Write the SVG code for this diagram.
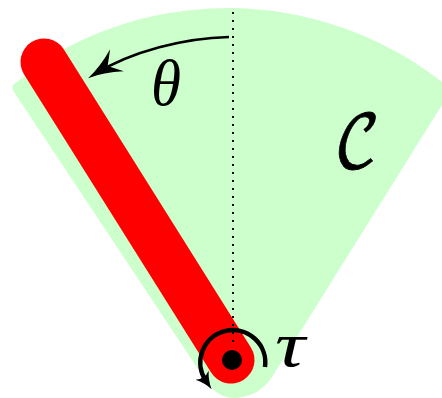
<svg xmlns="http://www.w3.org/2000/svg" width="442" height="398" viewBox="0 0 442 398">
<defs>
<style>
.m{font-family:"Liberation Serif","DejaVu Serif",serif;font-style:italic;fill:#000}
.c{fill:none;stroke:#000}
</style>
<marker id="a" markerUnits="userSpaceOnUse" viewBox="0 0 36 28" refX="27" refY="14" markerWidth="36" markerHeight="28" orient="auto"><path d="M0 1Q18 11 34 14Q18 17 0 27L11 14Z" fill="#000"/></marker>
<marker id="b" markerUnits="userSpaceOnUse" viewBox="0 0 20 20" refX="7" refY="10" markerWidth="20" markerHeight="20" orient="auto"><path d="M0 2Q8 8 17 10Q8 12 0 18Q5 10 0 2Z" fill="#000"/></marker>
</defs>
<g id="workspace">
<path d="M14 84Q11 88 14 92L200 372C208 386 219 398 233 398C248 398 262 392 272 377L442 105L442 82A352 352 0 0 0 233 8A352 352 0 0 0 62 50Z" fill="#ccffcc"/>
</g>
<g id="link">
<line x1="44" y1="62" x2="231" y2="360" stroke="#f00" stroke-width="47" stroke-linecap="round"/>
</g>
<g id="joint">
<circle cx="232" cy="360" r="10" fill="#000"/>
</g>
<g id="connectors">
<line x1="233" y1="12" x2="233" y2="346" class="c" stroke-width="2" stroke-dasharray="2 6"/>
<path d="M229 37C185 38 132 51 94 74.500" class="c" stroke-width="2.500" marker-end="url(#a)"/>
<path d="M265 367A32.500 32.500 0 1 0 206 381" class="c" stroke-width="4.500" marker-end="url(#b)"/>
</g>
<g id="labels">
<text transform="translate(151 105) scale(.9 .96)" class="m" font-size="68">θ</text>
<text transform="translate(334 168) scale(1 1.15)" font-family="'DejaVu Math TeX Gyre','Liberation Serif',serif" font-size="64" stroke="#000" stroke-width=".7">𝒞</text>
<text transform="translate(275 366) scale(1.5 1.15)" class="m" font-size="56">τ</text>
</g>
</svg>
